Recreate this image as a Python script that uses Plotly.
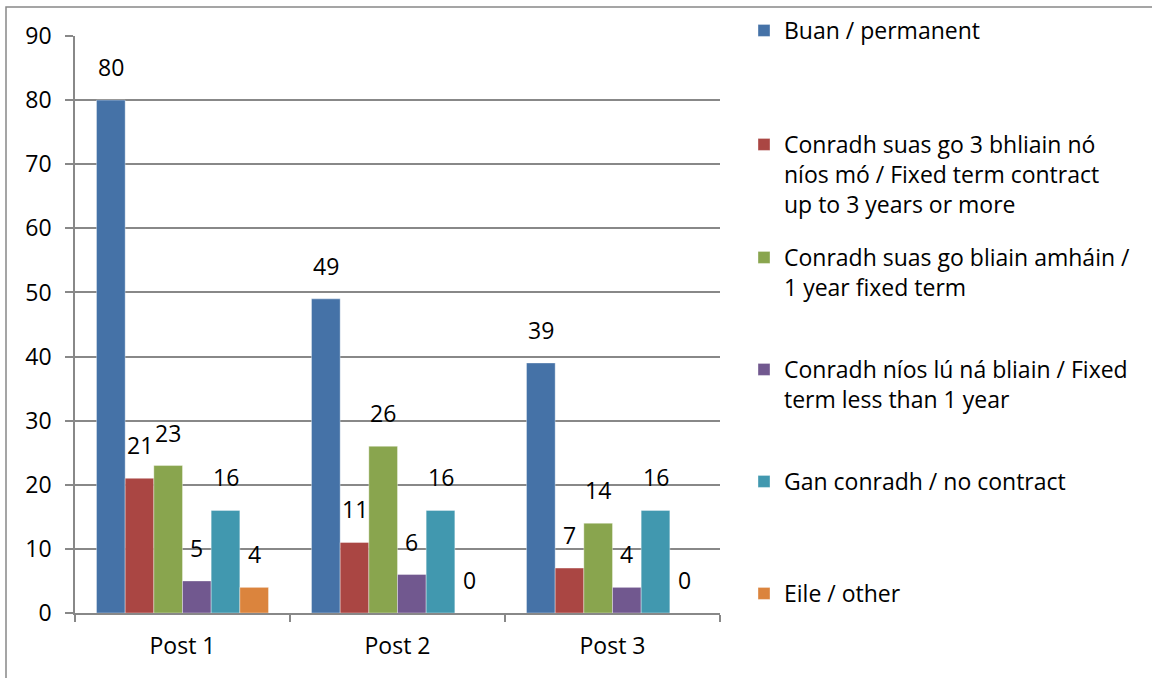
import plotly.graph_objects as go

categories = ["Post 1", "Post 2", "Post 3"]
series_names = [
    "Buan / permanent",
    "Conradh suas go 3 bhliain nó<br>níos mó / Fixed term contract<br>up to 3 years or more",
    "Conradh suas go bliain amháin /<br>1 year fixed term",
    "Conradh níos lú ná bliain / Fixed<br>term less than 1 year",
    "Gan conradh / no contract",
    "Eile / other",
]
buan = [80, 49, 39]
conradh_3 = [21, 11, 7]
conradh_1 = [23, 26, 14]
conradh_lt1 = [5, 6, 4]
gan_conradh = [16, 16, 16]
eile = [4, 0, 0]
series_values = [buan, conradh_3, conradh_1, conradh_lt1, gan_conradh, eile]
colors = ["#4572A7", "#AA4643", "#89A54E", "#71588F", "#4198AF", "#DB843D"]
y_ticks = list(range(0, 100, 10))

FONT = "Open Sans"
FS = 23

W, H = 1152, 678
L, R, T, B = 75, 432, 36, 65
PW, PH = W - L - R, H - T - B

def px_to_paper_x(px):
    return (px - L) / PW

def px_to_paper_y(py):
    return (H - B - py) / PH

legend_tops = [31, 145, 258, 370, 482, 594]

fig = go.Figure()
n = len(series_names)
bargap = 0.2
bw = (1 - bargap) / n
annotations = []
for i, (name, vals, col) in enumerate(zip(series_names, series_values, colors)):
    lg = "legend" if i == 0 else f"legend{i+1}"
    fig.add_trace(go.Bar(
        x=categories, y=vals, name=name,
        marker=dict(color=col, line=dict(width=0.6, color="rgba(255,255,255,0.6)")),
        legend=lg,
    ))
    for j, v in enumerate(vals):
        annotations.append(dict(
            x=j + (i - (n - 1) / 2) * bw, y=v, xref="x", yref="y",
            text=str(v), showarrow=False, yshift=33, yanchor="middle",
            font=dict(family=FONT, size=FS, color="#000000"),
        ))

layout_legends = {}
for i in range(n):
    key = "legend" if i == 0 else f"legend{i+1}"
    layout_legends[key] = dict(
        xref="container", yref="container",
        x=744 / W, y=1 - (legend_tops[i] - 22) / H,
        xanchor="left", yanchor="top", bgcolor="rgba(0,0,0,0)",
        font=dict(family=FONT, size=FS, color="#000000"),
        valign="top", borderwidth=0,
    )

fig.update_layout(
    width=W, height=H, autosize=False,
    margin=dict(l=L, r=R, t=T, b=B, pad=0, autoexpand=False),
    paper_bgcolor="white", plot_bgcolor="white",
    barmode="group", bargap=bargap, bargroupgap=0,
    font=dict(family=FONT, size=FS, color="#000000"),
    showlegend=True,
    annotations=annotations,
    xaxis=dict(
        type="category", showline=True, linecolor="#888888", linewidth=1.5,
        ticks="outside", tickson="boundaries", ticklen=7, tickcolor="#888888", tickwidth=1.5,
        showgrid=False, tickfont=dict(family=FONT, size=FS, color="#000000"),
        ticklabelstandoff=12,
    ),
    yaxis=dict(
        range=[0, 90], tickvals=y_ticks, showline=True, linecolor="#888888", linewidth=1.5,
        ticks="outside", ticklen=8, tickcolor="#888888", tickwidth=1.5,
        showgrid=True, gridcolor="#888888", gridwidth=1.5, zeroline=False,
        tickfont=dict(family=FONT, size=FS, color="#000000"),
        ticklabelstandoff=9,
    ),
    shapes=[dict(
        type="rect", xref="paper", yref="paper",
        x0=px_to_paper_x(6), y0=px_to_paper_y(700), x1=px_to_paper_x(1180), y1=px_to_paper_y(7),
        line=dict(color="#888888", width=1.5), fillcolor="rgba(0,0,0,0)", layer="below",
    )],
    **layout_legends,
)

fig.write_html(
    "out.html",
    config={"displayModeBar": False},
    post_script="document.body.style.margin='0';document.body.style.overflow='hidden';",
)
